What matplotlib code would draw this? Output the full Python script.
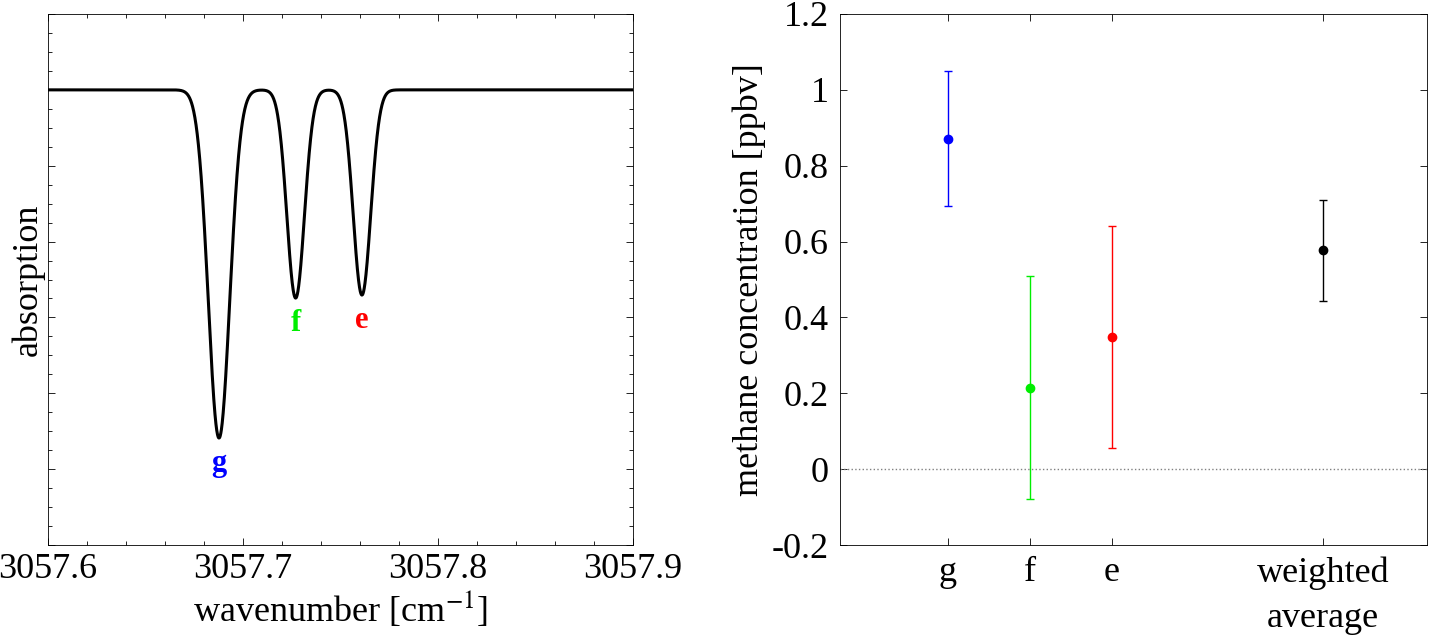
import numpy as np
import matplotlib
matplotlib.use("Agg")
import matplotlib.pyplot as plt
from matplotlib.ticker import AutoMinorLocator, FuncFormatter

plt.rcParams['font.family'] = ['Liberation Serif', 'DejaVu Serif']
plt.rcParams['mathtext.fontset'] = 'stix'

# spectrum line parameters
line_names = ['g', 'f', 'e']
line_centers = [3057.6877, 3057.727, 3057.761]
line_depths = [0.918, 0.549, 0.541]
line_widths = [0.0055, 0.0045, 0.0045]
line_colors = ['#0000ff', '#00ee00', '#ff0000']

# concentration results
categories = ['g', 'f', 'e', 'weighted\naverage']
conc = [0.87, 0.213, 0.348, 0.577]
err_lo = [0.695, -0.08, 0.057, 0.443]
err_hi = [1.05, 0.51, 0.64, 0.71]
point_colors = ['#0000ff', '#00ee00', '#ff0000', '#000000']

fig = plt.figure(figsize=(14.3, 6.4), dpi=100)
ax1 = fig.add_axes([48/1430, 1-545/640, 585/1430, 531/640])
ax2 = fig.add_axes([840/1430, 1-545/640, 587/1430, 531/640])

x = np.linspace(3057.6, 3057.9, 3000)
y = np.ones_like(x)
for c, d, w in zip(line_centers, line_depths, line_widths):
    y -= d*np.exp(-0.5*((x-c)/w)**2)
ax1.plot(x, y, color='black', lw=2.2)
for n, c, d, col in zip(line_names, line_centers, line_depths, line_colors):
    ax1.text(c, 1-d-0.03, n, color=col, fontsize=22, fontweight='bold', ha='center', va='top')
ax1.set_xlim(3057.6, 3057.9)
ax1.set_ylim(-0.2, 1.2)
ax1.set_xticks([3057.6, 3057.7, 3057.8, 3057.9])
ax1.xaxis.set_major_formatter(FuncFormatter(lambda v, p: f"{v:.1f}"))
ax1.set_yticks(np.arange(-0.2, 1.21, 0.2))
ax1.set_yticklabels([])
ax1.xaxis.set_minor_locator(AutoMinorLocator(5))
ax1.yaxis.set_minor_locator(AutoMinorLocator(4))
ax1.tick_params(which='both', direction='in', top=True, right=True, labelsize=26, width=0.6)
ax1.tick_params(which='major', length=5, pad=6)
ax1.tick_params(which='minor', length=3)
ax1.set_xlabel('wavenumber [cm$^{-1}$]', fontsize=26, labelpad=2)
ax1.set_ylabel('absorption', fontsize=26, labelpad=-4)

pos = [1, 2, 3, 5.57]
for p, v, lo, hi, col in zip(pos, conc, err_lo, err_hi, point_colors):
    ax2.errorbar([p], [v], yerr=[[v-lo], [hi-v]], fmt='o', color=col, ms=6, capsize=3, elinewidth=1, capthick=1)
ax2.axhline(0, color='gray', ls=':', lw=1)
ax2.set_xlim(-0.317, 6.84)
ax2.set_ylim(-0.2, 1.2)
ax2.set_xticks(pos)
ax2.set_xticklabels(categories, linespacing=1.5)
ax2.set_yticks(np.arange(-0.2, 1.21, 0.2))
ax2.yaxis.set_major_formatter(FuncFormatter(lambda v, p: f"{v:.1f}".rstrip('0').rstrip('.') if abs(v) > 1e-9 else "0"))
ax2.tick_params(direction='in', top=True, right=True, labelsize=26, length=5, width=0.6, pad=8)
ax2.set_ylabel('methane concentration [ppbv]', fontsize=26, labelpad=4)
for a in (ax1, ax2):
    for s in a.spines.values():
        s.set_linewidth(0.6)

fig.savefig('out.png', dpi=100)
